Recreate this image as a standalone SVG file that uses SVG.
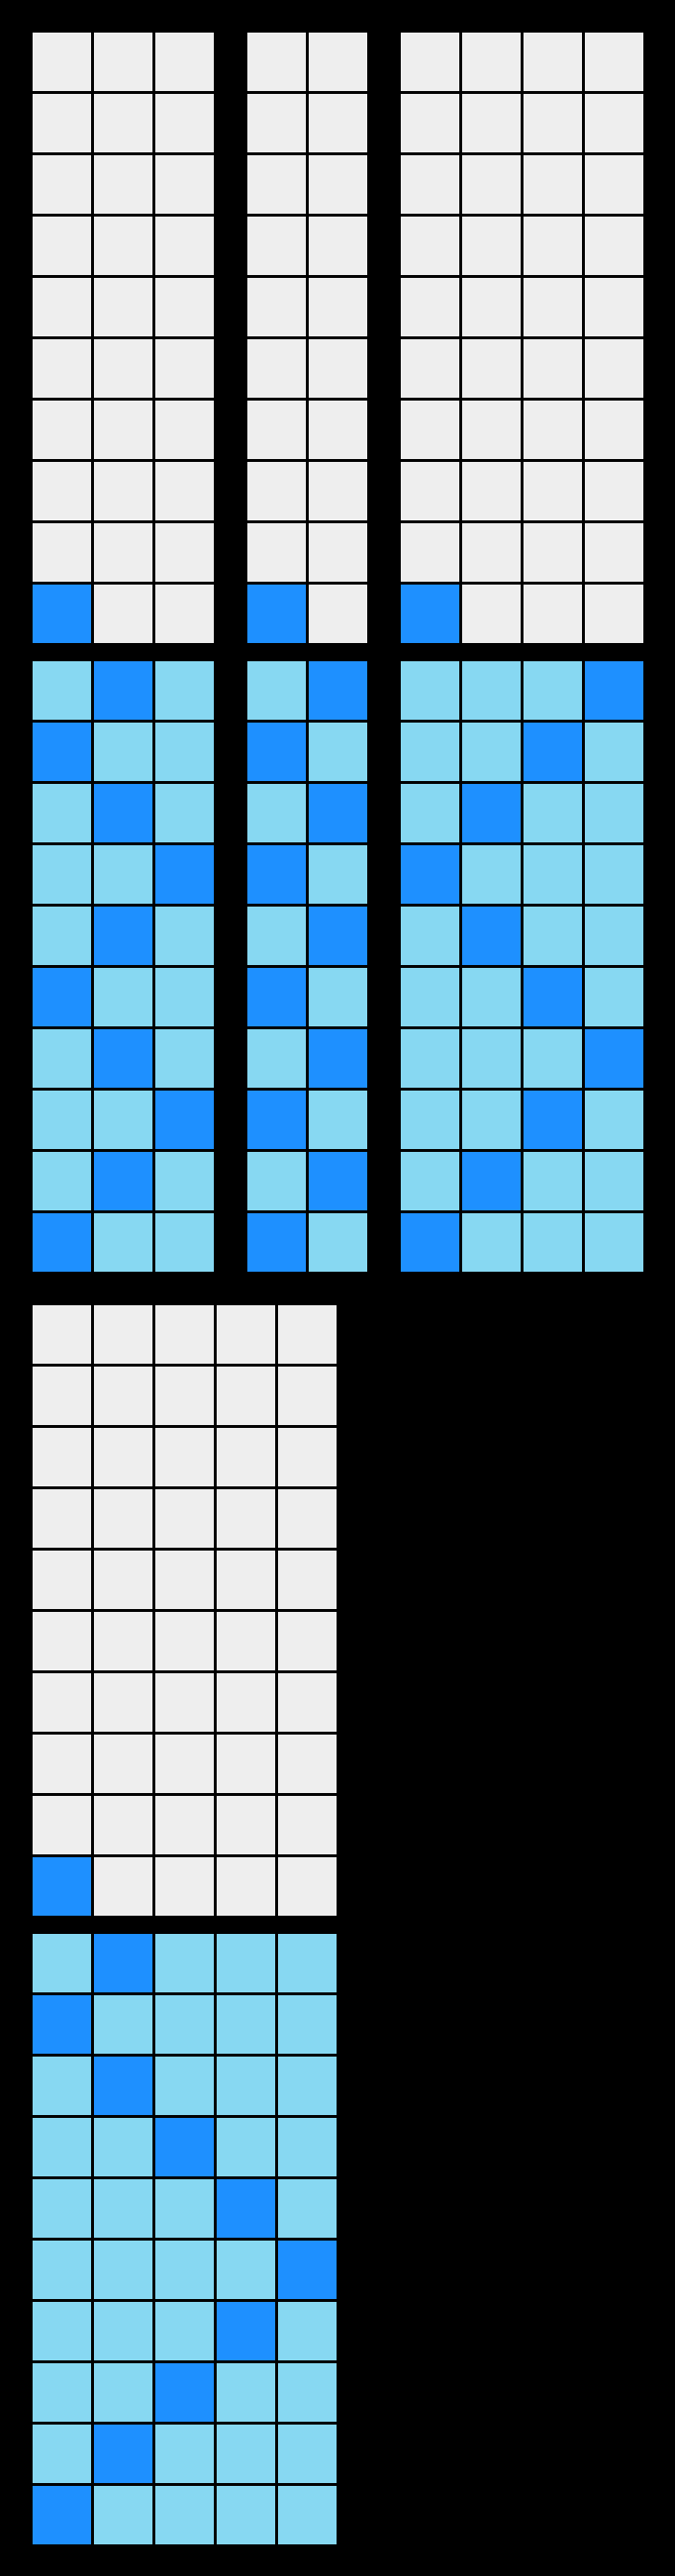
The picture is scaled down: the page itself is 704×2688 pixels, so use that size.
<svg xmlns="http://www.w3.org/2000/svg" width="704" height="2688" viewBox="0 0 704 2688">
<style>
.g{fill:#eeeeee}
.b{fill:#1e90ff}
.l{fill:#87d8f2}
</style>
<rect x="0" y="0" width="704" height="2688" fill="#000000"/>
<g id="grid-3col-start" transform="translate(34,34)">
<rect class="g" x="0" y="0" width="61" height="61"/><rect class="g" x="64" y="0" width="61" height="61"/><rect class="g" x="128" y="0" width="61" height="61"/>
<rect class="g" x="0" y="64" width="61" height="61"/><rect class="g" x="64" y="64" width="61" height="61"/><rect class="g" x="128" y="64" width="61" height="61"/>
<rect class="g" x="0" y="128" width="61" height="61"/><rect class="g" x="64" y="128" width="61" height="61"/><rect class="g" x="128" y="128" width="61" height="61"/>
<rect class="g" x="0" y="192" width="61" height="61"/><rect class="g" x="64" y="192" width="61" height="61"/><rect class="g" x="128" y="192" width="61" height="61"/>
<rect class="g" x="0" y="256" width="61" height="61"/><rect class="g" x="64" y="256" width="61" height="61"/><rect class="g" x="128" y="256" width="61" height="61"/>
<rect class="g" x="0" y="320" width="61" height="61"/><rect class="g" x="64" y="320" width="61" height="61"/><rect class="g" x="128" y="320" width="61" height="61"/>
<rect class="g" x="0" y="384" width="61" height="61"/><rect class="g" x="64" y="384" width="61" height="61"/><rect class="g" x="128" y="384" width="61" height="61"/>
<rect class="g" x="0" y="448" width="61" height="61"/><rect class="g" x="64" y="448" width="61" height="61"/><rect class="g" x="128" y="448" width="61" height="61"/>
<rect class="g" x="0" y="512" width="61" height="61"/><rect class="g" x="64" y="512" width="61" height="61"/><rect class="g" x="128" y="512" width="61" height="61"/>
<rect class="b" x="0" y="576" width="61" height="61"/><rect class="g" x="64" y="576" width="61" height="61"/><rect class="g" x="128" y="576" width="61" height="61"/>
</g>
<g id="grid-2col-start" transform="translate(258,34)">
<rect class="g" x="0" y="0" width="61" height="61"/><rect class="g" x="64" y="0" width="61" height="61"/>
<rect class="g" x="0" y="64" width="61" height="61"/><rect class="g" x="64" y="64" width="61" height="61"/>
<rect class="g" x="0" y="128" width="61" height="61"/><rect class="g" x="64" y="128" width="61" height="61"/>
<rect class="g" x="0" y="192" width="61" height="61"/><rect class="g" x="64" y="192" width="61" height="61"/>
<rect class="g" x="0" y="256" width="61" height="61"/><rect class="g" x="64" y="256" width="61" height="61"/>
<rect class="g" x="0" y="320" width="61" height="61"/><rect class="g" x="64" y="320" width="61" height="61"/>
<rect class="g" x="0" y="384" width="61" height="61"/><rect class="g" x="64" y="384" width="61" height="61"/>
<rect class="g" x="0" y="448" width="61" height="61"/><rect class="g" x="64" y="448" width="61" height="61"/>
<rect class="g" x="0" y="512" width="61" height="61"/><rect class="g" x="64" y="512" width="61" height="61"/>
<rect class="b" x="0" y="576" width="61" height="61"/><rect class="g" x="64" y="576" width="61" height="61"/>
</g>
<g id="grid-4col-start" transform="translate(418,34)">
<rect class="g" x="0" y="0" width="61" height="61"/><rect class="g" x="64" y="0" width="61" height="61"/><rect class="g" x="128" y="0" width="61" height="61"/><rect class="g" x="192" y="0" width="61" height="61"/>
<rect class="g" x="0" y="64" width="61" height="61"/><rect class="g" x="64" y="64" width="61" height="61"/><rect class="g" x="128" y="64" width="61" height="61"/><rect class="g" x="192" y="64" width="61" height="61"/>
<rect class="g" x="0" y="128" width="61" height="61"/><rect class="g" x="64" y="128" width="61" height="61"/><rect class="g" x="128" y="128" width="61" height="61"/><rect class="g" x="192" y="128" width="61" height="61"/>
<rect class="g" x="0" y="192" width="61" height="61"/><rect class="g" x="64" y="192" width="61" height="61"/><rect class="g" x="128" y="192" width="61" height="61"/><rect class="g" x="192" y="192" width="61" height="61"/>
<rect class="g" x="0" y="256" width="61" height="61"/><rect class="g" x="64" y="256" width="61" height="61"/><rect class="g" x="128" y="256" width="61" height="61"/><rect class="g" x="192" y="256" width="61" height="61"/>
<rect class="g" x="0" y="320" width="61" height="61"/><rect class="g" x="64" y="320" width="61" height="61"/><rect class="g" x="128" y="320" width="61" height="61"/><rect class="g" x="192" y="320" width="61" height="61"/>
<rect class="g" x="0" y="384" width="61" height="61"/><rect class="g" x="64" y="384" width="61" height="61"/><rect class="g" x="128" y="384" width="61" height="61"/><rect class="g" x="192" y="384" width="61" height="61"/>
<rect class="g" x="0" y="448" width="61" height="61"/><rect class="g" x="64" y="448" width="61" height="61"/><rect class="g" x="128" y="448" width="61" height="61"/><rect class="g" x="192" y="448" width="61" height="61"/>
<rect class="g" x="0" y="512" width="61" height="61"/><rect class="g" x="64" y="512" width="61" height="61"/><rect class="g" x="128" y="512" width="61" height="61"/><rect class="g" x="192" y="512" width="61" height="61"/>
<rect class="b" x="0" y="576" width="61" height="61"/><rect class="g" x="64" y="576" width="61" height="61"/><rect class="g" x="128" y="576" width="61" height="61"/><rect class="g" x="192" y="576" width="61" height="61"/>
</g>
<g id="grid-3col-path" transform="translate(34,690)">
<rect class="l" x="0" y="0" width="61" height="61"/><rect class="b" x="64" y="0" width="61" height="61"/><rect class="l" x="128" y="0" width="61" height="61"/>
<rect class="b" x="0" y="64" width="61" height="61"/><rect class="l" x="64" y="64" width="61" height="61"/><rect class="l" x="128" y="64" width="61" height="61"/>
<rect class="l" x="0" y="128" width="61" height="61"/><rect class="b" x="64" y="128" width="61" height="61"/><rect class="l" x="128" y="128" width="61" height="61"/>
<rect class="l" x="0" y="192" width="61" height="61"/><rect class="l" x="64" y="192" width="61" height="61"/><rect class="b" x="128" y="192" width="61" height="61"/>
<rect class="l" x="0" y="256" width="61" height="61"/><rect class="b" x="64" y="256" width="61" height="61"/><rect class="l" x="128" y="256" width="61" height="61"/>
<rect class="b" x="0" y="320" width="61" height="61"/><rect class="l" x="64" y="320" width="61" height="61"/><rect class="l" x="128" y="320" width="61" height="61"/>
<rect class="l" x="0" y="384" width="61" height="61"/><rect class="b" x="64" y="384" width="61" height="61"/><rect class="l" x="128" y="384" width="61" height="61"/>
<rect class="l" x="0" y="448" width="61" height="61"/><rect class="l" x="64" y="448" width="61" height="61"/><rect class="b" x="128" y="448" width="61" height="61"/>
<rect class="l" x="0" y="512" width="61" height="61"/><rect class="b" x="64" y="512" width="61" height="61"/><rect class="l" x="128" y="512" width="61" height="61"/>
<rect class="b" x="0" y="576" width="61" height="61"/><rect class="l" x="64" y="576" width="61" height="61"/><rect class="l" x="128" y="576" width="61" height="61"/>
</g>
<g id="grid-2col-path" transform="translate(258,690)">
<rect class="l" x="0" y="0" width="61" height="61"/><rect class="b" x="64" y="0" width="61" height="61"/>
<rect class="b" x="0" y="64" width="61" height="61"/><rect class="l" x="64" y="64" width="61" height="61"/>
<rect class="l" x="0" y="128" width="61" height="61"/><rect class="b" x="64" y="128" width="61" height="61"/>
<rect class="b" x="0" y="192" width="61" height="61"/><rect class="l" x="64" y="192" width="61" height="61"/>
<rect class="l" x="0" y="256" width="61" height="61"/><rect class="b" x="64" y="256" width="61" height="61"/>
<rect class="b" x="0" y="320" width="61" height="61"/><rect class="l" x="64" y="320" width="61" height="61"/>
<rect class="l" x="0" y="384" width="61" height="61"/><rect class="b" x="64" y="384" width="61" height="61"/>
<rect class="b" x="0" y="448" width="61" height="61"/><rect class="l" x="64" y="448" width="61" height="61"/>
<rect class="l" x="0" y="512" width="61" height="61"/><rect class="b" x="64" y="512" width="61" height="61"/>
<rect class="b" x="0" y="576" width="61" height="61"/><rect class="l" x="64" y="576" width="61" height="61"/>
</g>
<g id="grid-4col-path" transform="translate(418,690)">
<rect class="l" x="0" y="0" width="61" height="61"/><rect class="l" x="64" y="0" width="61" height="61"/><rect class="l" x="128" y="0" width="61" height="61"/><rect class="b" x="192" y="0" width="61" height="61"/>
<rect class="l" x="0" y="64" width="61" height="61"/><rect class="l" x="64" y="64" width="61" height="61"/><rect class="b" x="128" y="64" width="61" height="61"/><rect class="l" x="192" y="64" width="61" height="61"/>
<rect class="l" x="0" y="128" width="61" height="61"/><rect class="b" x="64" y="128" width="61" height="61"/><rect class="l" x="128" y="128" width="61" height="61"/><rect class="l" x="192" y="128" width="61" height="61"/>
<rect class="b" x="0" y="192" width="61" height="61"/><rect class="l" x="64" y="192" width="61" height="61"/><rect class="l" x="128" y="192" width="61" height="61"/><rect class="l" x="192" y="192" width="61" height="61"/>
<rect class="l" x="0" y="256" width="61" height="61"/><rect class="b" x="64" y="256" width="61" height="61"/><rect class="l" x="128" y="256" width="61" height="61"/><rect class="l" x="192" y="256" width="61" height="61"/>
<rect class="l" x="0" y="320" width="61" height="61"/><rect class="l" x="64" y="320" width="61" height="61"/><rect class="b" x="128" y="320" width="61" height="61"/><rect class="l" x="192" y="320" width="61" height="61"/>
<rect class="l" x="0" y="384" width="61" height="61"/><rect class="l" x="64" y="384" width="61" height="61"/><rect class="l" x="128" y="384" width="61" height="61"/><rect class="b" x="192" y="384" width="61" height="61"/>
<rect class="l" x="0" y="448" width="61" height="61"/><rect class="l" x="64" y="448" width="61" height="61"/><rect class="b" x="128" y="448" width="61" height="61"/><rect class="l" x="192" y="448" width="61" height="61"/>
<rect class="l" x="0" y="512" width="61" height="61"/><rect class="b" x="64" y="512" width="61" height="61"/><rect class="l" x="128" y="512" width="61" height="61"/><rect class="l" x="192" y="512" width="61" height="61"/>
<rect class="b" x="0" y="576" width="61" height="61"/><rect class="l" x="64" y="576" width="61" height="61"/><rect class="l" x="128" y="576" width="61" height="61"/><rect class="l" x="192" y="576" width="61" height="61"/>
</g>
<g id="grid-5col-start" transform="translate(34,1362)">
<rect class="g" x="0" y="0" width="61" height="61"/><rect class="g" x="64" y="0" width="61" height="61"/><rect class="g" x="128" y="0" width="61" height="61"/><rect class="g" x="192" y="0" width="61" height="61"/><rect class="g" x="256" y="0" width="61" height="61"/>
<rect class="g" x="0" y="64" width="61" height="61"/><rect class="g" x="64" y="64" width="61" height="61"/><rect class="g" x="128" y="64" width="61" height="61"/><rect class="g" x="192" y="64" width="61" height="61"/><rect class="g" x="256" y="64" width="61" height="61"/>
<rect class="g" x="0" y="128" width="61" height="61"/><rect class="g" x="64" y="128" width="61" height="61"/><rect class="g" x="128" y="128" width="61" height="61"/><rect class="g" x="192" y="128" width="61" height="61"/><rect class="g" x="256" y="128" width="61" height="61"/>
<rect class="g" x="0" y="192" width="61" height="61"/><rect class="g" x="64" y="192" width="61" height="61"/><rect class="g" x="128" y="192" width="61" height="61"/><rect class="g" x="192" y="192" width="61" height="61"/><rect class="g" x="256" y="192" width="61" height="61"/>
<rect class="g" x="0" y="256" width="61" height="61"/><rect class="g" x="64" y="256" width="61" height="61"/><rect class="g" x="128" y="256" width="61" height="61"/><rect class="g" x="192" y="256" width="61" height="61"/><rect class="g" x="256" y="256" width="61" height="61"/>
<rect class="g" x="0" y="320" width="61" height="61"/><rect class="g" x="64" y="320" width="61" height="61"/><rect class="g" x="128" y="320" width="61" height="61"/><rect class="g" x="192" y="320" width="61" height="61"/><rect class="g" x="256" y="320" width="61" height="61"/>
<rect class="g" x="0" y="384" width="61" height="61"/><rect class="g" x="64" y="384" width="61" height="61"/><rect class="g" x="128" y="384" width="61" height="61"/><rect class="g" x="192" y="384" width="61" height="61"/><rect class="g" x="256" y="384" width="61" height="61"/>
<rect class="g" x="0" y="448" width="61" height="61"/><rect class="g" x="64" y="448" width="61" height="61"/><rect class="g" x="128" y="448" width="61" height="61"/><rect class="g" x="192" y="448" width="61" height="61"/><rect class="g" x="256" y="448" width="61" height="61"/>
<rect class="g" x="0" y="512" width="61" height="61"/><rect class="g" x="64" y="512" width="61" height="61"/><rect class="g" x="128" y="512" width="61" height="61"/><rect class="g" x="192" y="512" width="61" height="61"/><rect class="g" x="256" y="512" width="61" height="61"/>
<rect class="b" x="0" y="576" width="61" height="61"/><rect class="g" x="64" y="576" width="61" height="61"/><rect class="g" x="128" y="576" width="61" height="61"/><rect class="g" x="192" y="576" width="61" height="61"/><rect class="g" x="256" y="576" width="61" height="61"/>
</g>
<g id="grid-5col-path" transform="translate(34,2018)">
<rect class="l" x="0" y="0" width="61" height="61"/><rect class="b" x="64" y="0" width="61" height="61"/><rect class="l" x="128" y="0" width="61" height="61"/><rect class="l" x="192" y="0" width="61" height="61"/><rect class="l" x="256" y="0" width="61" height="61"/>
<rect class="b" x="0" y="64" width="61" height="61"/><rect class="l" x="64" y="64" width="61" height="61"/><rect class="l" x="128" y="64" width="61" height="61"/><rect class="l" x="192" y="64" width="61" height="61"/><rect class="l" x="256" y="64" width="61" height="61"/>
<rect class="l" x="0" y="128" width="61" height="61"/><rect class="b" x="64" y="128" width="61" height="61"/><rect class="l" x="128" y="128" width="61" height="61"/><rect class="l" x="192" y="128" width="61" height="61"/><rect class="l" x="256" y="128" width="61" height="61"/>
<rect class="l" x="0" y="192" width="61" height="61"/><rect class="l" x="64" y="192" width="61" height="61"/><rect class="b" x="128" y="192" width="61" height="61"/><rect class="l" x="192" y="192" width="61" height="61"/><rect class="l" x="256" y="192" width="61" height="61"/>
<rect class="l" x="0" y="256" width="61" height="61"/><rect class="l" x="64" y="256" width="61" height="61"/><rect class="l" x="128" y="256" width="61" height="61"/><rect class="b" x="192" y="256" width="61" height="61"/><rect class="l" x="256" y="256" width="61" height="61"/>
<rect class="l" x="0" y="320" width="61" height="61"/><rect class="l" x="64" y="320" width="61" height="61"/><rect class="l" x="128" y="320" width="61" height="61"/><rect class="l" x="192" y="320" width="61" height="61"/><rect class="b" x="256" y="320" width="61" height="61"/>
<rect class="l" x="0" y="384" width="61" height="61"/><rect class="l" x="64" y="384" width="61" height="61"/><rect class="l" x="128" y="384" width="61" height="61"/><rect class="b" x="192" y="384" width="61" height="61"/><rect class="l" x="256" y="384" width="61" height="61"/>
<rect class="l" x="0" y="448" width="61" height="61"/><rect class="l" x="64" y="448" width="61" height="61"/><rect class="b" x="128" y="448" width="61" height="61"/><rect class="l" x="192" y="448" width="61" height="61"/><rect class="l" x="256" y="448" width="61" height="61"/>
<rect class="l" x="0" y="512" width="61" height="61"/><rect class="b" x="64" y="512" width="61" height="61"/><rect class="l" x="128" y="512" width="61" height="61"/><rect class="l" x="192" y="512" width="61" height="61"/><rect class="l" x="256" y="512" width="61" height="61"/>
<rect class="b" x="0" y="576" width="61" height="61"/><rect class="l" x="64" y="576" width="61" height="61"/><rect class="l" x="128" y="576" width="61" height="61"/><rect class="l" x="192" y="576" width="61" height="61"/><rect class="l" x="256" y="576" width="61" height="61"/>
</g>
<g id="connectors"></g>
</svg>
